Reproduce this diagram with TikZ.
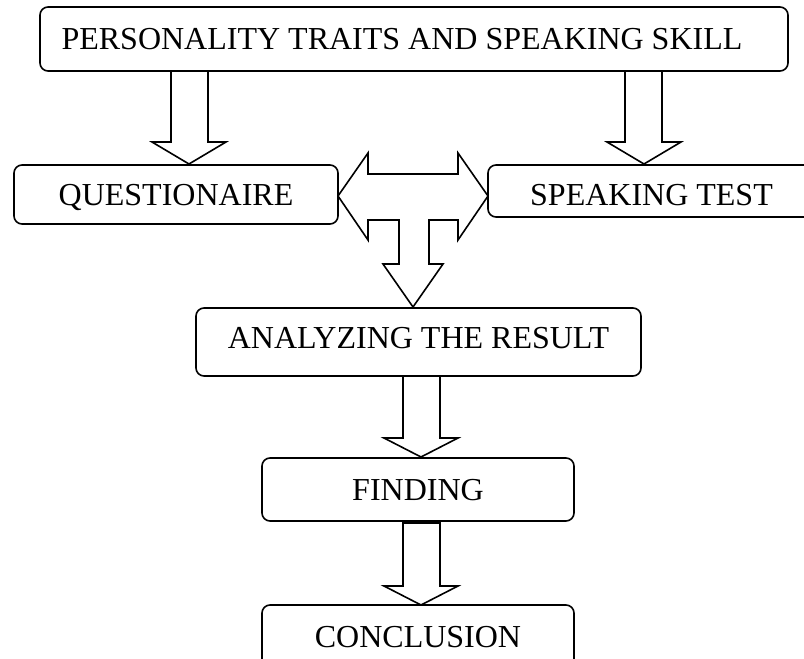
\documentclass[tikz,border=0pt]{standalone}
\usepackage{fontspec}
\setmainfont{Liberation Serif}
\begin{document}
\begin{tikzpicture}[x=1pt,y=-1pt,
  box/.style={draw,line width=1.6pt,rounded corners=8pt,inner sep=0pt,
    text height=21pt,text depth=0pt,font=\fontsize{32}{38}\selectfont},
  blockarrow/.style={draw,line width=1.6pt,line join=miter}]
\clip (0,0) rectangle (804,659);
\node[box,minimum width=748pt,minimum height=64pt] (top) at (414,39)
  {PERSONALITY TRAITS AND SPEAKING SKILL\hspace*{24pt}};
\node[box,minimum width=324pt,minimum height=59pt] (quest) at (176,194.5)
  {QUESTIONAIRE};
\node[box,minimum width=342pt,minimum height=52pt] (test) at (659,191)
  {\raisebox{-4pt}{SPEAKING TEST}\hspace*{15pt}};
\node[box,minimum width=445pt,minimum height=68pt] (ana) at (418.5,342)
  {\raisebox{4pt}{ANALYZING THE RESULT}};
\node[box,minimum width=312pt,minimum height=63pt] (find) at (418,489.5)
  {FINDING};
\node[box,minimum width=312pt,minimum height=63pt] (conc) at (418,636.5)
  {CONCLUSION};
% arrows from top box
\draw[blockarrow] (171,71) -- (171,142) -- (152,142) -- (189,164) -- (226,142) -- (208,142) -- (208,71);
\draw[blockarrow] (625,71) -- (625,142) -- (607,142) -- (644,164) -- (681,142) -- (662,142) -- (662,71);
% T-shaped arrow
\draw[blockarrow] (338,196) -- (368,153) -- (368,174) -- (458,174) -- (458,153) -- (488,196)
  -- (458,240) -- (458,220) -- (429,220) -- (429,264) -- (443,264) -- (413,307)
  -- (383,264) -- (399,264) -- (399,220) -- (368,220) -- (368,240) -- cycle;
% arrows down
\draw[blockarrow] (403,376) -- (403,438) -- (384,438) -- (421,457) -- (458,438) -- (440,438) -- (440,376);
\draw[blockarrow] (403,523) -- (403,586) -- (384,586) -- (421,605) -- (458,586) -- (440,586) -- (440,523) -- cycle;
\end{tikzpicture}
\end{document}
